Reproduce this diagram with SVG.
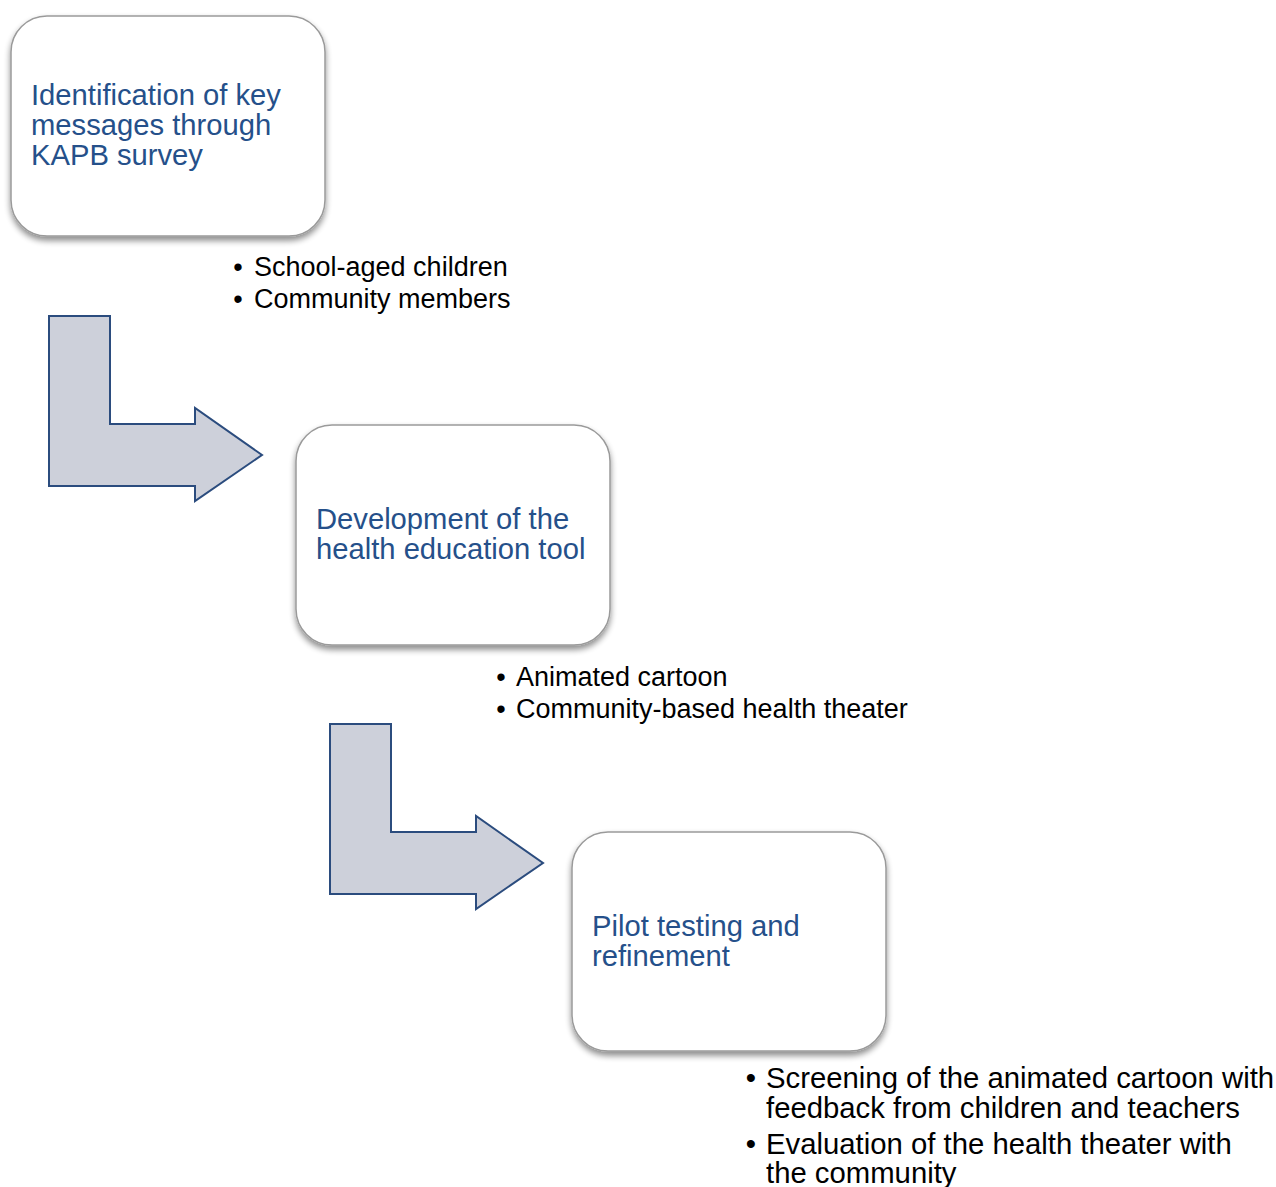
<svg xmlns="http://www.w3.org/2000/svg" width="1276" height="1187" viewBox="0 0 1276 1187">
<style>
.box{fill:#fff;stroke:#9a9a9a;stroke-width:1.5}
.title{font-family:"Liberation Sans",Arial,sans-serif;font-size:29.2px;fill:#25508a}
.bul{font-family:"Liberation Sans",Arial,sans-serif;font-size:27px;fill:#000}
.bul3{font-family:"Liberation Sans",Arial,sans-serif;font-size:29.3px;fill:#000}
.dot{text-anchor:middle}
.arrow{fill:#cdd0da;stroke:#2b4c7e;stroke-width:2;stroke-linejoin:miter}
</style>
<defs>
<filter id="sh" x="-10%" y="-10%" width="120%" height="125%">
<feGaussianBlur in="SourceAlpha" stdDeviation="3"/>
<feOffset dx="0" dy="4" result="b"/>
<feComponentTransfer><feFuncA type="linear" slope="0.45"/></feComponentTransfer>
<feMerge><feMergeNode/><feMergeNode in="SourceGraphic"/></feMerge>
</filter>
</defs>
<rect width="1276" height="1187" fill="#fff"/>
<g id="connectors">
<path class="arrow" d="M49,316 L110,316 L110,424 L195,424 L195,408 L262,455 L195,501 L195,486 L49,486 Z"/>
<path class="arrow" d="M330,724 L391,724 L391,832 L476,832 L476,816 L543,863 L476,909 L476,894 L330,894 Z"/>
</g>
<g id="node1">
<rect class="box" x="11" y="16" width="314" height="220" rx="36" filter="url(#sh)"/>
<text class="title" x="31" y="105">Identification of key</text>
<text class="title" x="31" y="135">messages through</text>
<text class="title" x="31" y="165">KAPB survey</text>
</g>
<g id="bullets1">
<text class="bul dot" x="238" y="276">•</text>
<text class="bul" x="254" y="276">School-aged children</text>
<text class="bul dot" x="238" y="308">•</text>
<text class="bul" x="254" y="308">Community members</text>
</g>
<g id="node2">
<rect class="box" x="296" y="425" width="314" height="220" rx="36" filter="url(#sh)"/>
<text class="title" x="316" y="529">Development of the</text>
<text class="title" x="316" y="559">health education tool</text>
</g>
<g id="bullets2">
<text class="bul dot" x="501" y="686">•</text>
<text class="bul" x="516" y="686">Animated cartoon</text>
<text class="bul dot" x="501" y="718">•</text>
<text class="bul" x="516" y="718">Community-based health theater</text>
</g>
<g id="node3">
<rect class="box" x="572" y="832" width="314" height="219" rx="36" filter="url(#sh)"/>
<text class="title" x="592" y="936">Pilot testing and</text>
<text class="title" x="592" y="966">refinement</text>
</g>
<g id="bullets3">
<text class="bul3 dot" x="751" y="1088">•</text>
<text class="bul3" x="766" y="1088">Screening of the animated cartoon with</text>
<text class="bul3" x="766" y="1118">feedback from children and teachers</text>
<text class="bul3 dot" x="751" y="1154">•</text>
<text class="bul3" x="766" y="1154">Evaluation of the health theater with</text>
<text class="bul3" x="766" y="1183">the community</text>
</g>
</svg>
